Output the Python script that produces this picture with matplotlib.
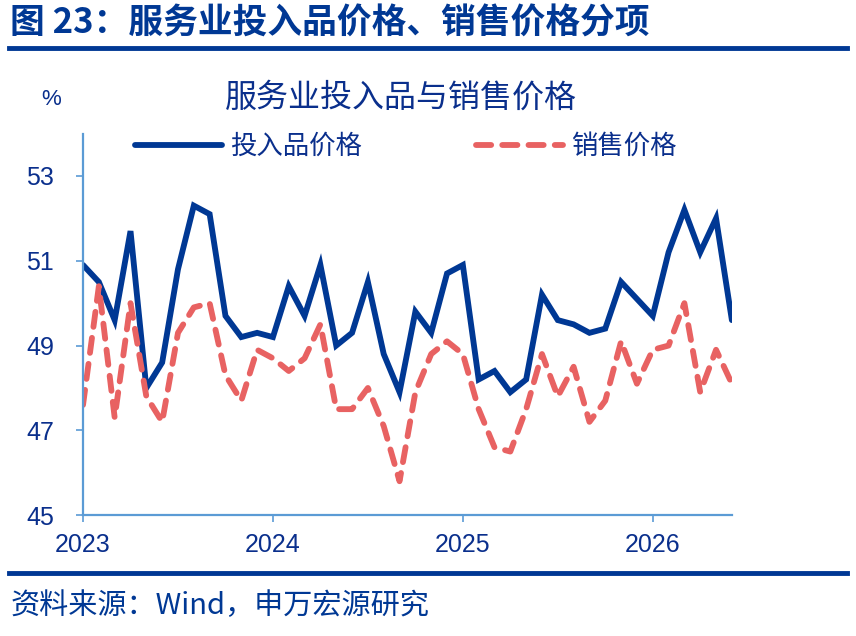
import matplotlib.pyplot as plt
from matplotlib.lines import Line2D

plt.rcParams['font.family'] = ['Noto Sans CJK SC', 'DejaVu Sans']

# monthly data, Jan 2023 - Jun 2026
months = list(range(42))
input_price = [50.9, 50.5, 49.6, 51.7, 48.0, 48.6, 50.8, 52.3, 52.1, 49.7, 49.2, 49.3,
               49.2, 50.4, 49.7, 50.9, 49.0, 49.3, 50.5, 48.8, 47.9, 49.8, 49.3, 50.7,
               50.9, 48.2, 48.4, 47.9, 48.2, 50.2, 49.6, 49.5, 49.3, 49.4, 50.5, 50.1,
               49.7, 51.2, 52.2, 51.2, 52.0, 49.6]
sales_price = [47.6, 50.4, 47.3, 50.0, 47.8, 47.2, 49.3, 49.9, 50.0, 48.3, 47.7, 48.9,
               48.7, 48.4, 48.7, 49.5, 47.5, 47.5, 48.0, 47.1, 45.8, 47.9, 48.8, 49.1,
               48.8, 47.5, 46.6, 46.5, 47.5, 48.8, 47.8, 48.5, 47.2, 47.7, 49.1, 48.1,
               48.9, 49.0, 50.0, 47.9, 48.9, 48.1]
year_ticks = [0, 12, 24, 36]
year_labels = ['2023', '2024', '2025', '2026']
y_ticks = [45, 47, 49, 51, 53]

navy = '#003894'
red = '#E86262'
text_blue = '#0A2F8C'
spine = '#5B9BD5'

fig = plt.figure(figsize=(8.56, 6.36), dpi=100)
ax = fig.add_axes([0.097, 0.19, 0.758, 0.60])

ax.plot(months, input_price, color=navy, lw=4.2, label='投入品价格', solid_joinstyle='miter',
        solid_capstyle='round')
ax.plot(months, sales_price, color=red, lw=4.2, dashes=(2.6, 1.9), dash_capstyle='round',
        label='销售价格')

ax.set_xlim(0, 41)
ax.set_ylim(45, 54)
ax.set_yticks(y_ticks)
ax.set_xticks(year_ticks)
ax.set_xticklabels(year_labels)
ax.tick_params(axis='both', colors=spine, labelcolor=text_blue, labelsize=18, length=5, width=1.2,
               labelfontfamily='Liberation Sans')
ax.tick_params(axis='x', pad=8)
ax.tick_params(axis='y', pad=16)
for s in ['top', 'right']:
    ax.spines[s].set_visible(False)
for s in ['left', 'bottom']:
    ax.spines[s].set_color(spine)
    ax.spines[s].set_linewidth(1.6)

ax.legend(loc='center', bbox_to_anchor=(0.474, 0.770), bbox_transform=fig.transFigure,
          ncol=2, frameon=False, fontsize=19, handlelength=3.3, columnspacing=4.3,
          handletextpad=0.3, labelcolor=text_blue)

fig.text(0.263, 0.846, '服务业投入品与销售价格', fontsize=23, color=text_blue, va='center')
fig.text(0.048, 0.843, '%', fontsize=16, color=text_blue, va='center', family='Liberation Sans')

fig.text(0.012, 0.963, '图 23：服务业投入品价格、销售价格分项', fontsize=25, fontweight='bold',
         color=navy, va='center')
fig.add_artist(Line2D([0.01, 0.99], [0.925, 0.925], color=navy, lw=3.5, transform=fig.transFigure))
fig.add_artist(Line2D([0.01, 0.99], [0.099, 0.099], color=navy, lw=3.5, transform=fig.transFigure))
fig.text(0.012, 0.047, '资料来源：Wind，申万宏源研究', fontsize=21, color=navy, va='center')

fig.savefig('out.png', dpi=100)
